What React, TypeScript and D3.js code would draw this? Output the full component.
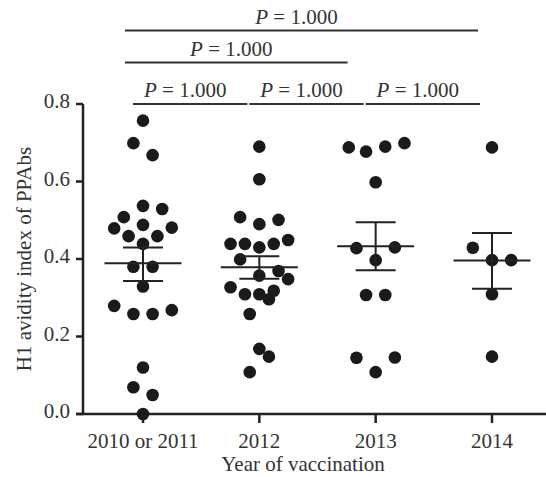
import React from "react";
import * as d3 from "d3";

// ---- Data ----
const categories = ["2010 or 2011", "2012", "2013", "2014"];

// values per group, with beeswarm slot (in units of a dot step)
const values2010 = [0.757, 0.699, 0.668, 0.537, 0.529, 0.508, 0.479, 0.488, 0.481, 0.459, 0.459, 0.439, 0.38, 0.38, 0.329, 0.279, 0.258, 0.258, 0.268, 0.12, 0.069, 0.049, 0.0];
const slots2010 = [0, -1, 1, 0, 2, -2, -3, 0, 3, -1.5, 1.5, 0, -1, 1, 0, -3, -1, 1, 3, 0, -1, 1, 0];

const values2012 = [0.69, 0.606, 0.508, 0.49, 0.501, 0.439, 0.439, 0.43, 0.439, 0.449, 0.399, 0.357, 0.369, 0.348, 0.327, 0.309, 0.309, 0.318, 0.296, 0.258, 0.168, 0.148, 0.108];
const slots2012 = [0, 0, -2, 0, 2, -3, -1.5, 0, 1.5, 3, -2, 0, 2, 3, -3, -1.5, 0, 1.5, 1, -1, 0, 1, -1];

const values2013 = [0.688, 0.677, 0.69, 0.699, 0.598, 0.428, 0.43, 0.397, 0.307, 0.307, 0.145, 0.146, 0.108];
const slots2013 = [-2.8, -1, 1, 3, 0, -2, 2, 0, -1, 1, -2, 2, 0];

const values2014 = [0.688, 0.429, 0.397, 0.397, 0.309, 0.148];
const slots2014 = [0, -2, 0, 2, 0, 0];

const groupValues = [values2010, values2012, values2013, values2014];
const groupSlots = [slots2010, slots2012, slots2013, slots2014];

const means = [0.389, 0.379, 0.433, 0.396];
const semUpper = [0.43, 0.407, 0.495, 0.467];
const semLower = [0.343, 0.349, 0.371, 0.323];

const yTicks = [0, 0.2, 0.4, 0.6, 0.8];

const comparisons = [
  { a: 0, b: 1, label: "1.000", level: 0 },
  { a: 1, b: 2, label: "1.000", level: 0 },
  { a: 2, b: 3, label: "1.000", level: 0 },
  { a: 0, b: 2, label: "1.000", level: 1 },
  { a: 0, b: 3, label: "1.000", level: 2 },
];

const W = 546;
const H = 477;
const FONT = "'Liberation Serif', 'DejaVu Serif', serif";
const INK = "#222";
const TEXT = "#333";

export default function App() {
  const x = d3.scalePoint<string>().domain(categories).range([143, 492]);
  const y = d3.scaleLinear().domain([0, 0.8]).range([414, 104]);
  const axisX = 83;
  const slotStep = 9.6;
  const r = 6.3;
  const meanHalf = 38.5;
  const capHalf = 20;

  const levelY = [104, 62.5, 30.5];
  const bracketEnds = (c: { a: number; b: number; level: number }) => {
    const xa = x(categories[c.a])!;
    const xb = x(categories[c.b])!;
    if (c.level === 0) return [xa - 10, xb - 12];
    if (c.level === 1) return [xa - 18, xb - 28];
    return [xa - 18, xb - 14];
  };

  return (
    <svg width={W} height={H} style={{ position: "absolute", left: 0, top: 0, background: "#fff" }} fontFamily={FONT}>
      {/* y axis */}
      <line x1={axisX} x2={axisX} y1={y(0.8)} y2={y(0)} stroke={INK} strokeWidth={2.5} />
      {yTicks.map((t) => (
        <g key={t}>
          <line x1={axisX - 7} x2={axisX} y1={y(t)} y2={y(t)} stroke={INK} strokeWidth={2.5} />
          <text x={70} y={y(t) + 4} textAnchor="end" fontSize={21} fill={TEXT}>
            {d3.format(".1f")(t)}
          </text>
        </g>
      ))}
      <text
        transform={`translate(31, ${(y(0) + y(0.8)) / 2}) rotate(-90)`}
        textAnchor="middle"
        fontSize={21}
        fill={TEXT}
      >
        H1 avidity index of PPAbs
      </text>

      {/* x axis */}
      <line x1={axisX - 7} x2={W} y1={y(0)} y2={y(0)} stroke={INK} strokeWidth={2.5} />
      {categories.map((c) => (
        <g key={c}>
          <line x1={x(c)} x2={x(c)} y1={y(0)} y2={y(0) + 9} stroke={INK} strokeWidth={2.5} />
          <text x={x(c)} y={448} textAnchor="middle" fontSize={21} fill={TEXT}>
            {c}
          </text>
        </g>
      ))}
      <text x={303} y={471} textAnchor="middle" fontSize={21} fill={TEXT}>
        Year of vaccination
      </text>

      {/* points */}
      {groupValues.map((vals, gi) =>
        vals.map((v, i) => (
          <circle
            key={`${gi}-${i}`}
            cx={x(categories[gi])! + groupSlots[gi][i] * slotStep}
            cy={y(v)}
            r={r}
            fill="#1a1a1a"
          />
        ))
      )}

      {/* mean and SEM */}
      {categories.map((c, gi) => {
        const cx = x(c)!;
        return (
          <g key={`m-${c}`} stroke={INK} strokeWidth={2}>
            <line x1={cx - meanHalf} x2={cx + meanHalf} y1={y(means[gi])} y2={y(means[gi])} />
            <line x1={cx} x2={cx} y1={y(semUpper[gi])} y2={y(semLower[gi])} />
            <line x1={cx - capHalf} x2={cx + capHalf} y1={y(semUpper[gi])} y2={y(semUpper[gi])} />
            <line x1={cx - capHalf} x2={cx + capHalf} y1={y(semLower[gi])} y2={y(semLower[gi])} />
          </g>
        );
      })}

      {/* comparison brackets */}
      {comparisons.map((c, i) => {
        const [x1, x2] = bracketEnds(c);
        const ly = levelY[c.level];
        const cx = (x1 + x2) / 2 - 5;
        return (
          <g key={`c-${i}`}>
            <line x1={x1} x2={x2} y1={ly} y2={ly} stroke="#333" strokeWidth={2} />
            <text x={cx} y={ly - 7} textAnchor="middle" fontSize={21} fill={TEXT}>
              <tspan fontStyle="italic">P</tspan>
              <tspan> = {c.label}</tspan>
            </text>
          </g>
        );
      })}
    </svg>
  );
}
